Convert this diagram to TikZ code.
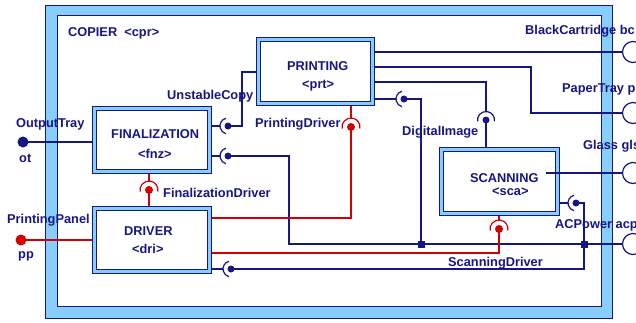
\documentclass[tikz,border=0pt]{standalone}
\usepackage{fontspec}
\setmainfont{Liberation Sans}
\pgfdeclarelayer{back}
\pgfdeclarelayer{bg}
\pgfsetlayers{back,bg,main}
\definecolor{nv}{RGB}{22,22,132}
\definecolor{lb}{RGB}{135,206,250}
\definecolor{rd}{RGB}{212,0,0}
\begin{document}
\begin{tikzpicture}[x=1pt,y=-1pt,
  lbl/.style={text=nv,font=\bfseries\fontsize{12.8}{14}\selectfont,inner sep=0pt,anchor=base west},
  wire/.style={draw=nv,line width=1.2pt},
  rwire/.style={draw=rd,line width=1.2pt},
  comp/.style={draw=nv,line width=0.9pt,double=lb,double distance=3pt,fill=white,inner sep=0pt,outer sep=0pt},
  bdot/.style={circle,fill=nv,inner sep=0pt,minimum size=7pt},
  rdot/.style={circle,fill=rd,inner sep=0pt,minimum size=8pt},
  edot/.style={circle,inner sep=0pt,minimum size=11pt},
  extport/.style={circle,draw=nv,line width=1.2pt,fill=white,minimum size=21pt,inner sep=0pt},
  junc/.style={rectangle,fill=nv,minimum size=7pt,inner sep=0pt},
]
\useasboundingbox (0,0) rectangle (636,322);

% outer component frame
\begin{pgfonlayer}{back}
\draw[draw=nv,line width=0.9pt,fill=lb] (45,5) rectangle (612,318);
\draw[draw=nv,line width=0.9pt,fill=white] (57,15) rectangle (601,306);
\end{pgfonlayer}
\node[lbl] (cprT) at (68,36) {COPIER\ \ <cpr>};

% components
\node[comp,minimum width=114.2pt,minimum height=64.2pt] (prt) at (315.5,71.5) {};
\node[comp,minimum width=115.2pt,minimum height=63.2pt] (fnz) at (152,140) {};
\node[comp,minimum width=115.2pt,minimum height=63.2pt] (dri) at (152,240) {};
\node[comp,minimum width=116.2pt,minimum height=64.2pt] (sca) at (499.5,181.5) {};

\node[lbl] (prtA) at (287,70) {PRINTING};
\node[lbl] (prtB) at (302,88) {<prt>};
\node[lbl] (fnzA) at (111,138) {FINALIZATION};
\node[lbl] (fnzB) at (138,158) {<fnz>};
\node[lbl] (driA) at (124,235) {DRIVER};
\node[lbl] (driB) at (132,253) {<dri>};
\node[lbl] (scaA) at (470,182) {SCANNING};
\node[lbl] (scaB) at (492,195) {<sca>};

% external ports
\node[edot,fill=nv] (ot) at (23,142) {};
\node[edot,fill=rd] (pp) at (21,240) {};
\node[extport] (bc) at (633,52) {};
\node[extport] (ptr) at (633,113) {};
\node[extport] (gls) at (633,173) {};
\node[extport] (acp) at (633,244) {};

% socket dots
\node[bdot] (suc) at (228,126) {};
\node[bdot] (sf2) at (228,156) {};
\node[bdot] (sp4) at (404,99) {};
\node[bdot] (sdi) at (486,120) {};
\node[bdot] (sacp) at (576,203) {};
\node[bdot] (sdr) at (231,269) {};
\node[rdot] (spd) at (351,127) {};
\node[rdot] (sfd) at (149,190) {};
\node[rdot] (ssd) at (499,229) {};

% junctions and corners
\coordinate (ucK) at (242,72);
\coordinate (c1) at (289,244);
\coordinate (diK) at (486,82);
\coordinate (ptK) at (531,67);
\coordinate (c2) at (584,269);
\coordinate (c3) at (351,218);
\coordinate (c4) at (499,253);
\coordinate (glsK) at (546,173);
\node[junc] (jL) at (421,244) {};
\node[junc] (jR) at (584,244) {};

% sockets (arcs)
\foreach \s in {suc,sf2,sp4,sacp,sdr}
  \draw[wire] ([shift={(105:8pt)}]\s.center) arc[start angle=105,end angle=255,radius=8pt];
\draw[wire] ([shift={(-10:8.5pt)}]sdi.center) arc[start angle=-10,end angle=190,radius=8.5pt];
\foreach \s in {spd,sfd,ssd}
  \draw[rwire] ([shift={(-10:9pt)}]\s.center) arc[start angle=-10,end angle=190,radius=9pt];

% connectors
\begin{pgfonlayer}{bg}
\draw[wire] (ot.center) -- (fnz.west |- ot.center);
\draw[rwire] (pp.center) -- (dri.west |- pp.center);
\draw[wire] (prt.east |- bc.center) -- (bc.center);
\draw[wire] (prt.east |- ptK) -- (ptK) |- (ptr.center);
\draw[wire] (prt.east |- diK) -- (diK) -- ([yshift=8.5pt]sdi.center);
\draw[wire] (sdi.center) -- (sdi.center |- sca.north);
\draw[wire] (prt.east |- sp4.center) -- ([xshift=-8pt]sp4.center);
\draw[wire] (sp4.center) -| (jL.center);
\draw[wire] (fnz.east |- suc.center) -- ([xshift=-8pt]suc.center);
\draw[wire] (suc.center) -| (ucK) -- (prt.west |- ucK);
\draw[wire] (fnz.east |- sf2.center) -- ([xshift=-8pt]sf2.center);
\draw[wire] (sf2.center) -| (c1) -- (jL.center) -- (jR.center) -- (acp.center);
\draw[wire] (sca.east |- sacp.center) -- ([xshift=-8pt]sacp.center);
\draw[wire] (sacp.center) -| (c2) -- (sdr.center);
\draw[wire] (dri.east |- sdr.center) -- ([xshift=-8pt]sdr.center);
\draw[rwire] (spd.center |- prt.south) -- ([yshift=9pt]spd.center);
\draw[rwire] (spd.center) -- (c3) -- (dri.east |- c3);
\draw[rwire] (sfd.center |- fnz.south) -- ([yshift=9pt]sfd.center);
\draw[rwire] (sfd.center) -- (sfd.center |- dri.north);
\draw[rwire] (ssd.center |- sca.south) -- ([yshift=9pt]ssd.center);
\draw[rwire] (ssd.center) -- (c4) -- (dri.east |- c4);
\end{pgfonlayer}
\draw[wire] (glsK) -- (gls.west);

% labels
\node[lbl] (otA) at (16,127) {OutputTray};
\node[lbl] (otB) at (19,162) {ot};
\node[lbl] (ppA) at (7,223) {PrintingPanel};
\node[lbl] (ppB) at (18,258) {pp};
\node[lbl] (ucL) at (167,99) {UnstableCopy};
\node[lbl] (pdL) at (255,127) {PrintingDriver};
\node[lbl] (fdL) at (163,197) {FinalizationDriver};
\node[lbl] (diL) at (402,135) {DigitalImage};
\node[lbl] (sdL) at (448,266) {ScanningDriver};
\node[lbl] (bcL) at (525,34) {BlackCartridge bc};
\node[lbl] (ptL) at (562,92) {PaperTray p};
\node[lbl] (glL) at (583,149) {Glass gls};
\node[lbl] (acL) at (555,228) {ACPower acp};
\end{tikzpicture}
\end{document}
